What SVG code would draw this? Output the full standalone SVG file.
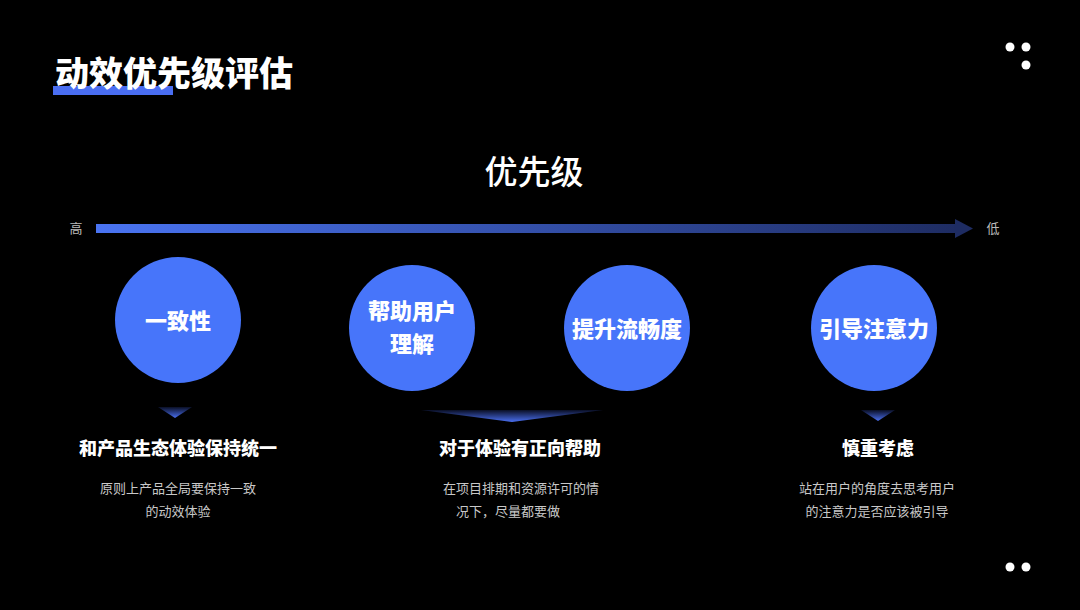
<svg xmlns="http://www.w3.org/2000/svg" width="1080" height="610" viewBox="0 0 1080 610">
<defs>
<linearGradient id="ar" x1="0" x2="1" y1="0" y2="0"><stop offset="0" stop-color="#4a74f2"/><stop offset="1" stop-color="#1e2c62"/></linearGradient>
<linearGradient id="tri" x1="0" x2="0" y1="0" y2="1"><stop offset="0" stop-color="#0a0f25"/><stop offset="1" stop-color="#4a6ff0"/></linearGradient>
<style>
text{font-family:"Noto Sans CJK SC","Noto Sans",sans-serif}
.c{fill:#4775fa}
.ct{fill:#fff;font-size:22px;font-weight:900;text-anchor:middle}
.h{fill:#fff;font-size:18px;font-weight:900;text-anchor:middle}
.d{fill:#c8c8c8;font-size:13px;text-anchor:middle}
.dot{fill:#fff}
</style>
</defs>
<rect width="1080" height="610" fill="#000"/>
<rect x="53" y="86" width="120" height="9" fill="#4a6ef2"/>
<text x="55" y="86" fill="#fff" font-size="34" font-weight="900">动效优先级评估</text>
<circle class="dot" cx="1010" cy="47" r="4.5"/><circle class="dot" cx="1026" cy="47" r="4.5"/><circle class="dot" cx="1026" cy="65" r="4.5"/>
<circle class="dot" cx="1010" cy="567" r="4.5"/><circle class="dot" cx="1026" cy="567" r="4.5"/>
<text x="534" y="184" fill="#fff" font-size="33" font-weight="500" text-anchor="middle">优先级</text>
<g id="connectors">
<rect x="96" y="224" width="862" height="9" fill="url(#ar)"/>
<polygon points="955,219 973,228.5 955,238" fill="#1e2c62"/>
<polygon points="158,407 192,407 175,418" fill="url(#tri)"/>
<polygon points="421,410 603,410 512,422" fill="url(#tri)"/>
<polygon points="861,410 895,410 878,421" fill="url(#tri)"/>
</g>
<text x="76" y="233" fill="#bbb" font-size="13" text-anchor="middle">高</text>
<text x="993" y="233" fill="#bbb" font-size="13" text-anchor="middle">低</text>
<g id="n1"><circle class="c" cx="178" cy="320" r="63"/><text class="ct" x="178" y="329">一致性</text></g>
<g id="n2"><circle class="c" cx="412" cy="328" r="63"/><text class="ct" x="412" y="319">帮助用户</text><text class="ct" x="412" y="352">理解</text></g>
<g id="n3"><circle class="c" cx="627" cy="328" r="63"/><text class="ct" x="627" y="337">提升流畅度</text></g>
<g id="n4"><circle class="c" cx="874" cy="328" r="63"/><text class="ct" x="874" y="337">引导注意力</text></g>
<g id="t1"><text class="h" x="178" y="455">和产品生态体验保持统一</text><text class="d" x="178" y="493">原则上产品全局要保持一致</text><text class="d" x="178" y="516">的动效体验</text></g>
<g id="t2"><text class="h" x="520" y="455">对于体验有正向帮助</text><text class="d" x="521" y="493">在项目排期和资源许可的情</text><text class="d" x="508" y="516">况下，尽量都要做</text></g>
<g id="t3"><text class="h" x="878" y="455">慎重考虑</text><text class="d" x="877" y="493">站在用户的角度去思考用户</text><text class="d" x="877" y="516">的注意力是否应该被引导</text></g>
</svg>
